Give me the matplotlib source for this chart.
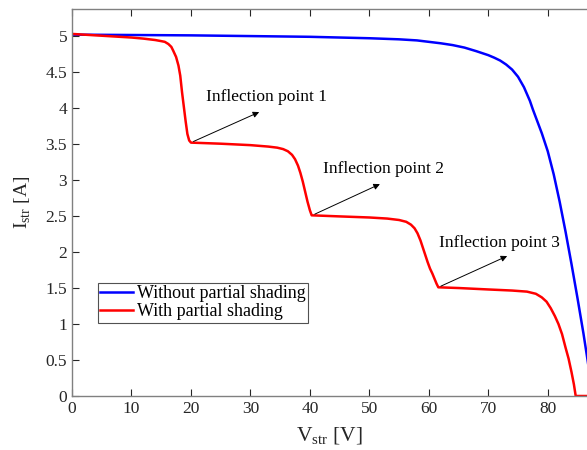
import numpy as np
import matplotlib
matplotlib.use("Agg")
import matplotlib.pyplot as plt

plt.rcParams['font.family'] = ['Liberation Serif', 'DejaVu Serif']
plt.rcParams['mathtext.fontset'] = 'custom'
plt.rcParams['mathtext.rm'] = 'Liberation Serif'

# Curva I-V sem sombreamento (azul)
v_no_shade = [0, 10, 20, 30, 40, 45, 50, 55, 58, 60, 62, 64, 66, 68, 70, 71,
              72, 73, 74, 75, 76, 77, 77.5, 78, 79, 80, 81, 82, 83, 84, 85,
              86, 86.6, 87.5]
i_no_shade = [5.02, 5.015, 5.01, 5.0, 4.99, 4.98, 4.97, 4.955, 4.94, 4.92,
              4.90, 4.875, 4.84, 4.79, 4.735, 4.70, 4.66, 4.605, 4.535, 4.435,
              4.29, 4.10, 3.98, 3.87, 3.65, 3.40, 3.08, 2.70, 2.28, 1.83,
              1.36, 0.87, 0.55, 0.05]

# Curva I-V com sombreamento parcial (vermelha)
v_shade = [0, 5, 10, 12, 14, 15, 15.6, 16.2, 16.7, 17.0, 17.5, 17.9, 18.2,
           18.5, 18.8, 19.1, 19.4, 19.7, 20.0,
           25, 30, 33, 34.5, 35.5, 36.3, 37.0, 37.5, 38.0, 38.4, 38.8, 39.2,
           39.6, 40.0, 40.3,
           45, 50, 53, 55, 56.2, 57.0, 57.6, 58.1, 58.6, 59.0, 59.4, 59.8,
           60.2, 60.6, 61.0, 61.3, 61.6,
           65, 70, 74, 76.5, 78, 79, 79.8, 80.5, 81.2, 81.8, 82.4, 83.0,
           83.5, 84.0, 84.4, 84.7, 87]
i_shade = [5.03, 5.005, 4.98, 4.965, 4.945, 4.93, 4.92, 4.89, 4.85, 4.80,
           4.71, 4.59, 4.45, 4.22, 4.02, 3.82, 3.64, 3.55, 3.52,
           3.505, 3.485, 3.465, 3.45, 3.43, 3.40, 3.35, 3.29, 3.20, 3.10,
           2.98, 2.84, 2.70, 2.58, 2.51,
           2.495, 2.48, 2.465, 2.445, 2.42, 2.38, 2.33, 2.26, 2.16, 2.06,
           1.96, 1.86, 1.77, 1.70, 1.62, 1.56, 1.51,
           1.50, 1.48, 1.465, 1.45, 1.42, 1.37, 1.31, 1.22, 1.11, 1.00, 0.86,
           0.67, 0.52, 0.33, 0.16, 0.0, 0.0]

x_ticks = np.arange(0, 81, 10)
y_ticks = np.arange(0, 5.01, 0.5)

fig = plt.figure(figsize=(5.87, 4.5), dpi=100)
ax = fig.add_axes([0.1227, 0.12, 0.8773, 0.859])

ax.plot(v_no_shade, i_no_shade, color='blue', lw=1.8, label='Without partial shading')
ax.plot(v_shade, i_shade, color='red', lw=1.8, label='With partial shading')

# Setas dos pontos de inflexao
arrow = dict(arrowstyle='-|>', color='black', lw=0.7, mutation_scale=9)
box = dict(facecolor='white', edgecolor='none', pad=0.5)
ax.annotate('', xy=(31.9, 3.96), xytext=(20.0, 3.52), arrowprops=arrow)
ax.annotate('', xy=(52.2, 2.96), xytext=(40.4, 2.51), arrowprops=arrow)
ax.annotate('', xy=(73.6, 1.96), xytext=(61.6, 1.51), arrowprops=arrow)
ax.text(22.6, 4.16, 'Inflection point 1', fontsize=12.5, va='center', bbox=box)
ax.text(42.2, 3.16, 'Inflection point 2', fontsize=12.5, va='center', bbox=box)
ax.text(61.7, 2.13, 'Inflection point 3', fontsize=12.5, va='center', bbox=box)

ax.set_xlim(0, 86.6)
ax.set_ylim(0, 5.37)
ax.set_xticks(x_ticks)
ax.set_yticks(y_ticks)
ax.set_xticklabels(['%g' % t for t in x_ticks])
ax.set_yticklabels(['%g' % t for t in y_ticks])
ax.tick_params(direction='in', top=True, right=False, length=5, width=0.8,
               labelsize=12.5, colors='#262626')
for s in ['left', 'bottom', 'top']:
    ax.spines[s].set_color('#808080')
    ax.spines[s].set_linewidth(1.0)
ax.spines['right'].set_visible(False)

ax.set_xlabel(r'V$_{\rm str}$ [V]', fontsize=15.5, color='#262626', labelpad=6.5)
ax.set_ylabel(r'I$_{\rm str}$ [A]', fontsize=14, color='#262626', labelpad=9)

leg = ax.legend(loc='upper left', bbox_to_anchor=(0.05, 0.293), fontsize=13,
                frameon=True, fancybox=False, handlelength=1.8, handletextpad=0.2,
                labelspacing=0.05, borderpad=0.15, borderaxespad=0)
leg.get_frame().set_edgecolor('#262626')
leg.get_frame().set_linewidth(0.8)

plt.savefig('out.png', dpi=100)
